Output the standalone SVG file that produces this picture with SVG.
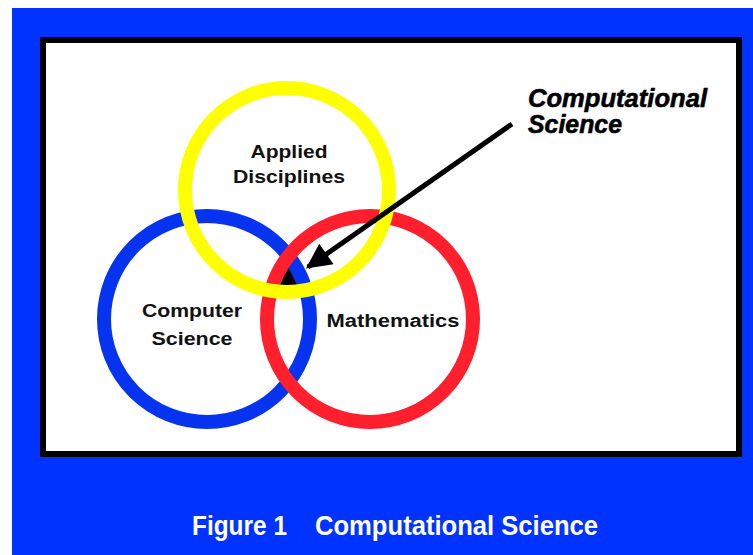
<svg xmlns="http://www.w3.org/2000/svg" width="753" height="555" viewBox="0 0 753 555">
  <style>
    .ring { fill: none; stroke-width: 14; }
    .lbl { font-family: "Liberation Sans", Arial, sans-serif; font-weight: bold; font-size: 18px; fill: #111; text-anchor: middle; }
    .call { font-family: "Liberation Sans", Arial, sans-serif; font-weight: bold; font-style: italic; font-size: 25px; fill: #000; stroke: #000; stroke-width: 0.6; }
    .cap { font-family: "Liberation Sans", Arial, sans-serif; font-weight: bold; font-size: 27px; fill: #fff; }
  </style>
  <defs>
    <clipPath id="cBlue"><circle cx="207" cy="319" r="103"/></clipPath>
    <clipPath id="cRed"><circle cx="370" cy="319" r="103"/></clipPath>
    <marker id="ah" viewBox="0 0 10 10" refX="9" refY="5" markerWidth="5.5" markerHeight="5" orient="auto" markerUnits="strokeWidth">
      <path d="M0,0 L10,5 L0,10 z" fill="#000"/>
    </marker>
  </defs>
  <rect x="0" y="0" width="753" height="555" fill="#fff"/>
  <rect x="12" y="8" width="741" height="547" fill="#0033ff"/>
  <rect x="43" y="40" width="696" height="414" fill="#fff" stroke="#000" stroke-width="6"/>

  <g id="triple">
    <g clip-path="url(#cBlue)"><g clip-path="url(#cRed)"><circle cx="287" cy="190" r="102" fill="#000"/></g></g>
  </g>
  <g id="computer-science">
    <circle class="ring" cx="207" cy="319" r="103" stroke="#0533f0"/>
    <text class="lbl" x="192" y="317" textLength="100" lengthAdjust="spacingAndGlyphs">Computer</text>
    <text class="lbl" x="192" y="345" textLength="81" lengthAdjust="spacingAndGlyphs">Science</text>
  </g>
  <g id="mathematics">
    <circle class="ring" cx="370" cy="319" r="103" stroke="#ff1f2d"/>
    <text class="lbl" x="393" y="327" textLength="133" lengthAdjust="spacingAndGlyphs">Mathematics</text>
  </g>
  <g id="applied-disciplines">
    <circle class="ring" cx="287" cy="190" r="102" stroke="#ffff00"/>
    <text class="lbl" x="289" y="158" textLength="77" lengthAdjust="spacingAndGlyphs">Applied</text>
    <text class="lbl" x="289" y="183" textLength="112" lengthAdjust="spacingAndGlyphs">Disciplines</text>
  </g>
  <g id="connectors">
    <line x1="512" y1="124" x2="308" y2="267" stroke="#000" stroke-width="5" marker-end="url(#ah)"/>
  </g>
  <g id="computational-science">
    <text class="call" x="528" y="107" textLength="179" lengthAdjust="spacingAndGlyphs">Computational</text>
    <text class="call" x="528" y="133" textLength="94" lengthAdjust="spacingAndGlyphs">Science</text>
  </g>
  <g id="caption">
    <text class="cap" x="192" y="535" textLength="95" lengthAdjust="spacingAndGlyphs">Figure 1</text>
    <text class="cap" x="315" y="535" textLength="283" lengthAdjust="spacingAndGlyphs">Computational Science</text>
  </g>
</svg>
